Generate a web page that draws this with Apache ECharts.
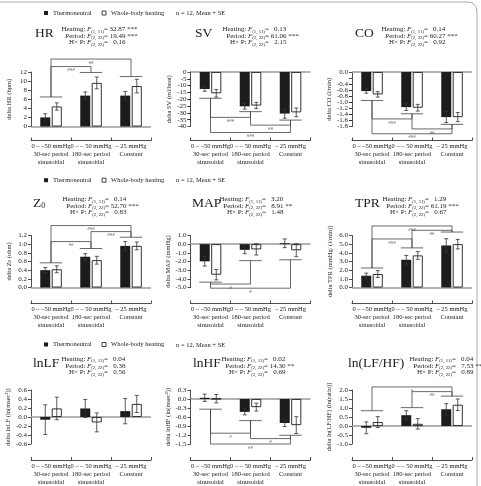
<!DOCTYPE html>
<html><head><meta charset="utf-8">
<script src="https://cdn.jsdelivr.net/npm/echarts@6/dist/echarts.min.js"></script>
<style>html,body{margin:0;padding:0;background:#fff}#c{width:481px;height:486px}</style>
</head><body><div id="c"></div>
<script>
// ---------- DATA ----------
const categories = ['0 – –50 mmHg\n30-sec period\nsinusoidal', '0 – – 50 mmHg\n180-sec period\nsinusoidal', '– 25 mmHg\nConstant'];
const groupNames = ['Thermoneutral', 'Whole-body heating'];
const panelTitles = ['HR', 'SV', 'CO', 'Z{s|0}', 'MAP', 'TPR', 'lnLF', 'lnHF', 'ln(LF/HF)'];
const yNames = ['delta HR (bpm)', 'delta SV (ml/beat)', 'delta CO (l/min)', 'delta Z{s|0} (ohm)', 'delta MAP (mmHg)',
  'delta TPR (mmHg/ (l/min))', 'delta lnLF (ln(msec²))', 'delta lnHF (ln(msec²))', 'delta ln(LF/HF) (ln(ratio))'];
const yMin = [0, -40, -1.8, 0, -5, 0, -0.6, -1.5, -1.0];
const yMax = [12, 0, 0, 1.2, 1, 6, 0.6, 0.3, 2.0];
const yStep = [2, 5, 0.2, 0.2, 1, 1, 0.2, 0.3, 0.5];
const yDecimals = [0, 0, 1, 1, 1, 1, 1, 1, 1];

const statLabels = ['Heating:', 'Period:', 'H× P:'];
const statSubs = ['(1, 11)', '(2, 22)', '(2, 22)'];
const fHeating = ['32.87 ***', '0.13', '0.14', '0.14', '3.20', '1.29', '0.04', '0.02', '0.04'];
const fPeriod = ['19.49 ***', '61.06 ***', '60.27 ***', '52.70 ***', '8.91 **', '61.19 ***', '0.38', '14.30 **', '7.53 **'];
const fInteraction = ['0.16', '2.15', '0.92', '0.83', '1.48', '0.67', '0.56', '0.69', '0.89'];
const sampleNote = 'n = 12, Mean + SE';

const hrThermo = [2.0, 6.8, 6.8], hrThermoSE = [0.8, 0.8, 0.9];
const hrHeat = [4.4, 9.6, 8.9], hrHeatSE = [0.8, 1.3, 1.5];
const svThermo = [-12.5, -25.2, -30.5], svThermoSE = [1.6, 2.0, 3.4];
const svHeat = [-15.6, -24.6, -29.6], svHeatSE = [2.8, 2.3, 3.2];
const coThermo = [-0.63, -1.16, -1.49], coThermoSE = [0.07, 0.11, 0.18];
const coHeat = [-0.74, -1.18, -1.49], coHeatSE = [0.09, 0.11, 0.15];
const z0Thermo = [0.40, 0.71, 0.96], z0ThermoSE = [0.06, 0.07, 0.10];
const z0Heat = [0.42, 0.63, 0.96], z0HeatSE = [0.08, 0.09, 0.09];
const mapThermo = [-1.98, -0.65, 0.10], mapThermoSE = [0.55, 0.45, 0.5];
const mapHeat = [-3.52, -0.60, -0.70], mapHeatSE = [0.6, 0.65, 0.75];
const tprThermo = [1.36, 3.2, 4.85], tprThermoSE = [0.3, 0.5, 0.78];
const tprHeat = [1.55, 3.7, 5.0], tprHeatSE = [0.4, 0.45, 0.55];
const lflThermo = [-0.06, 0.19, 0.13], lflThermoSE = [0.33, 0.2, 0.28];
const lflHeat = [0.19, -0.12, 0.29], lflHeatSE = [0.25, 0.21, 0.19];
const lhfThermo = [0.04, -0.43, -0.80], lhfThermoSE = [0.12, 0.1, 0.12];
const lhfHeat = [0.01, -0.27, -0.87], lhfHeatSE = [0.14, 0.13, 0.28];
const ratioThermo = [-0.10, 0.60, 0.93], ratioThermoSE = [0.33, 0.25, 0.31];
const ratioHeat = [0.22, 0.12, 1.18], ratioHeatSE = [0.3, 0.29, 0.32];

// significance brackets: cap level per category, links [from, to, level] and their labels
const hrCaps = [6.5, 11.9, 11.0], hrLinks = [[0, 1, 13.2], [0, 2, 14.85]], hrLinkLabels = ['###', '##'];
const svCaps = [-19.3, -29.1, -35.3], svLinks = [[0, 1, -33.3], [1, 2, -39], [0, 2, -44.4]], svLinkLabels = ['###', '##', '###'];
const coCaps = [-0.94, -1.38, -1.73], coLinks = [[0, 1, -1.55], [1, 2, -1.88], [0, 2, -2.04]], coLinkLabels = ['###', '##', '###'];
const z0Caps = [0.57, 0.9, 1.16], z0Links = [[0, 1, 1.06], [1, 2, 1.29], [0, 2, 1.43]], z0LinkLabels = ['##', '###', '###'];
const mapCaps = [-4.38, -1.9, -1.8], mapLinks = [[0, 1, -4.6], [0, 2, -5.08]], mapLinkLabels = ['#', '#'];
const tprCaps = [2.25, 4.57, 6.4], tprLinks = [[0, 1, 5.6], [1, 2, 6.6], [0, 2, 7.1]], tprLinkLabels = ['###', '##', '###'];
const lflCaps = [], lflLinks = [], lflLinkLabels = [];
const lhfCaps = [-0.34, -0.72, -1.21], lhfLinks = [[0, 1, -1.14], [1, 2, -1.32], [0, 2, -1.5]], lhfLinkLabels = ['#', '#', '##'];
const ratioCaps = [0.85, 1.02, 1.66], ratioLinks = [[0, 2, 2.17], [1, 2, 1.91]], ratioLinkLabels = ['#', '##'];

const panelData = [
  [hrThermo, hrThermoSE, hrHeat, hrHeatSE, hrCaps, hrLinks, hrLinkLabels],
  [svThermo, svThermoSE, svHeat, svHeatSE, svCaps, svLinks, svLinkLabels],
  [coThermo, coThermoSE, coHeat, coHeatSE, coCaps, coLinks, coLinkLabels],
  [z0Thermo, z0ThermoSE, z0Heat, z0HeatSE, z0Caps, z0Links, z0LinkLabels],
  [mapThermo, mapThermoSE, mapHeat, mapHeatSE, mapCaps, mapLinks, mapLinkLabels],
  [tprThermo, tprThermoSE, tprHeat, tprHeatSE, tprCaps, tprLinks, tprLinkLabels],
  [lflThermo, lflThermoSE, lflHeat, lflHeatSE, lflCaps, lflLinks, lflLinkLabels],
  [lhfThermo, lhfThermoSE, lhfHeat, lhfHeatSE, lhfCaps, lhfLinks, lhfLinkLabels],
  [ratioThermo, ratioThermoSE, ratioHeat, ratioHeatSE, ratioCaps, ratioLinks, ratioLinkLabels]
];

// ---------- LAYOUT / STYLE ----------
const FONT = 'Liberation Serif';
const INK = '#222';
const GRID_LEFT = [31, 190.5, 352];
const GRID_W = 120;
const ROW_TOP = [72, 235.5, 390];
const ROW_H = [54.5, 52, 58.5];
const AX_OFF = [14, 16, 16];
const TITLE_X = [35, 195, 355, 33, 192, 355, 33, 193, 348];
const TITLE_Y = [33, 203, 363];
const F_X = [87, 248, 407, 88, 245, 408, 87, 247, 435];
const STAT_Y = [[29.3, 35.7, 42.3], [199.3, 205.8, 212.3], [359.2, 365.8, 372.4]];
const LEGEND_TOP = [9.5, 176.7, 341];
const NOTE_Y = [13.3, 180.7, 345];
const BAR_W = 10, BAR_GAP = 1.5;
const BAR_OFF = (BAR_W + BAR_GAP) / 2;

const chart = echarts.init(document.getElementById('c'), null, {renderer: 'canvas'});

const grids = [], xAxes = [], yAxes = [], series = [], graphics = [];

graphics.push({type: 'rect', silent: true, z: 0,
  shape: {x: -20, y: 2, width: 497, height: 530, r: 9},
  style: {fill: 'none', stroke: '#aaa', lineWidth: 1}});

function errRender(params, api) {
  const cat = api.value(0), mean = api.value(1), se = api.value(2), g = api.value(3);
  const off = (g === 0 ? -1 : 1) * BAR_OFF;
  const top = api.coord([cat, mean + se]);
  const bot = api.coord([cat, mean - se]);
  const x = top[0] + off, cw = 2;
  const st = {stroke: '#333', lineWidth: 0.8};
  return {type: 'group', children: [
    {type: 'line', shape: {x1: x, y1: top[1], x2: x, y2: bot[1]}, style: st},
    {type: 'line', shape: {x1: x - cw, y1: top[1], x2: x + cw, y2: top[1]}, style: st},
    {type: 'line', shape: {x1: x - cw, y1: bot[1], x2: x + cw, y2: bot[1]}, style: st}
  ]};
}
function capRender(params, api) {
  const c = api.coord([api.value(0), api.value(1)]);
  const hw = api.size([1, 0])[0] * 0.28;
  return {type: 'line', shape: {x1: c[0] - hw, y1: c[1], x2: c[0] + hw, y2: c[1]},
    style: {stroke: '#444', lineWidth: 0.8}};
}
function makeLinkRender(caps, labels) {
  return function (params, api) {
    const a = api.value(0), b = api.value(1), lv = api.value(2);
    const pa = api.coord([a, lv]), pb = api.coord([b, lv]);
    const ca = api.coord([a, caps[a]]), cb = api.coord([b, caps[b]]);
    const st = {stroke: '#444', lineWidth: 0.8};
    return {type: 'group', children: [
      {type: 'line', shape: {x1: pa[0], y1: pa[1], x2: pb[0], y2: pb[1]}, style: st},
      {type: 'line', shape: {x1: pa[0], y1: pa[1], x2: ca[0], y2: ca[1]}, style: st},
      {type: 'line', shape: {x1: pb[0], y1: pb[1], x2: cb[0], y2: cb[1]}, style: st},
      {type: 'text', x: (pa[0] + pb[0]) / 2, y: pa[1] + 0.8,
        style: {text: labels[params.dataIndex], fontSize: 5, fontFamily: FONT, fill: '#444', align: 'center', verticalAlign: 'top'}}
    ]};
  };
}

const fmt = (v, i) => (Math.abs(v) < 1e-9 ? 0 : v).toFixed(yDecimals[i]);

panelData.forEach((pd, i) => {
  const r = Math.floor(i / 3), c = i % 3;
  const [th, thSE, he, heSE, caps, links, linkLabels] = pd;
  grids.push({left: GRID_LEFT[c], top: ROW_TOP[r], width: GRID_W, height: ROW_H[r], containLabel: false});
  const xIdx = xAxes.length;
  xAxes.push({
    type: 'category', gridIndex: i, data: categories, position: 'bottom', offset: AX_OFF[r],
    axisLine: {show: true, onZero: false, lineStyle: {color: INK, width: 0.8}},
    axisTick: {show: true, inside: true, length: 3, lineStyle: {color: INK, width: 0.8}},
    axisLabel: {interval: 0, fontSize: 6.5, lineHeight: 8, margin: 2, color: INK, fontFamily: FONT},
    splitLine: {show: false}
  });
  // tight tick spacing: min label handled by an overlay axis so no neighbour label gets dropped
  const tight = ROW_H[r] / ((yMax[i] - yMin[i]) / yStep[i]) < 7;
  const yIdx = yAxes.length;
  yAxes.push({
    type: 'value', gridIndex: i, min: yMin[i], max: yMax[i], interval: yStep[i], position: 'left',
    axisLine: {show: true, lineStyle: {color: INK, width: 0.8}},
    axisTick: {show: true, length: 3, lineStyle: {color: INK, width: 0.8}},
    axisLabel: {fontSize: 7, margin: 4, color: INK, fontFamily: FONT, showMinLabel: !tight, showMaxLabel: true,
      hideOverlap: false, formatter: v => fmt(v, i)},
    splitLine: {show: false},
    name: yNames[i], nameLocation: 'middle', nameGap: 18,
    nameTextStyle: {fontSize: 6.5, color: INK, fontFamily: FONT, rich: {s: {fontSize: 5, fontFamily: FONT, color: INK}}}
  });
  if (tight) {
    yAxes.push({
      type: 'value', gridIndex: i, min: yMin[i], max: yMax[i], interval: yStep[i], position: 'left',
      axisLine: {show: false}, axisTick: {show: true, length: 3, lineStyle: {color: INK, width: 0.8}},
      axisLabel: {fontSize: 7, margin: 4, color: INK, fontFamily: FONT, showMinLabel: true, showMaxLabel: false,
        formatter: v => (Math.abs(v - yMin[i]) < 1e-9 ? fmt(v, i) : '')},
      splitLine: {show: false}
    });
  }
  series.push({
    type: 'bar', name: groupNames[0], xAxisIndex: xIdx, yAxisIndex: yIdx, data: th,
    barWidth: BAR_W, barGap: (BAR_GAP / BAR_W * 100) + '%',
    itemStyle: {color: '#1c1c1c'},
    markLine: {silent: true, symbol: 'none', z: 1, label: {show: false},
      lineStyle: {color: '#999', width: 1.5, type: 'solid'}, data: [{yAxis: 0}]}
  });
  series.push({
    type: 'bar', name: groupNames[1], xAxisIndex: xIdx, yAxisIndex: yIdx, data: he,
    barWidth: BAR_W, barGap: (BAR_GAP / BAR_W * 100) + '%',
    itemStyle: {color: '#fff', borderColor: '#1c1c1c', borderWidth: 0.9}
  });
  const errData = [];
  for (let k = 0; k < 3; k++) {
    errData.push([k, th[k], thSE[k], 0]);
    errData.push([k, he[k], heSE[k], 1]);
  }
  series.push({type: 'custom', xAxisIndex: xIdx, yAxisIndex: yIdx, clip: false, z: 3,
    renderItem: errRender, encode: {x: 0, y: 1}, data: errData});
  if (caps.length) {
    series.push({type: 'custom', xAxisIndex: xIdx, yAxisIndex: yIdx, clip: false,
      renderItem: capRender, encode: {x: 0, y: 1}, data: caps.map((v, k) => [k, v])});
    series.push({type: 'custom', xAxisIndex: xIdx, yAxisIndex: yIdx, clip: false,
      renderItem: makeLinkRender(caps, linkLabels), encode: {x: 0, y: 2}, data: links});
  }
  // title
  graphics.push({type: 'text', x: TITLE_X[i], y: TITLE_Y[r], silent: true,
    style: {text: panelTitles[i], fontSize: 13.5, fontFamily: FONT, fill: INK, align: 'left', verticalAlign: 'middle',
      rich: {s: {fontSize: 8, fontFamily: FONT, fill: INK, verticalAlign: 'bottom', lineHeight: 12}}}});
  // stats
  const vals = [fHeating[i], fPeriod[i], fInteraction[i]];
  vals.forEach((v, k) => {
    const y = STAT_Y[r][k];
    graphics.push({type: 'text', x: F_X[i] - 1.5, y: y, silent: true,
      style: {text: statLabels[k], fontSize: 7, fontFamily: FONT, fill: INK, align: 'right', verticalAlign: 'middle'}});
    const pad = /^\d\./.test(v) ? '  ' : '';
    graphics.push({type: 'text', x: F_X[i], y: y, silent: true,
      style: {text: '{i|F}{s|' + statSubs[k] + '}{n|= ' + pad + v + '}', fontSize: 7, fontFamily: FONT, fill: INK,
        align: 'left', verticalAlign: 'middle',
        rich: {
          i: {fontSize: 7, fontStyle: 'italic', fontFamily: FONT, fill: INK, lineHeight: 9},
          s: {fontSize: 4.8, fontFamily: FONT, fill: INK, verticalAlign: 'bottom', lineHeight: 6},
          n: {fontSize: 7, fontFamily: FONT, fill: INK, lineHeight: 9}
        }}});
  });
});

const legends = LEGEND_TOP.map(t => ({
  top: t, left: 44, padding: 0, itemGap: 10, itemWidth: 4, itemHeight: 4, icon: 'rect', selectedMode: false,
  textStyle: {fontSize: 6.5, fontFamily: FONT, color: INK},
  data: [{name: groupNames[0], itemStyle: {color: '#1c1c1c'}},
         {name: groupNames[1], itemStyle: {color: '#fff', borderColor: '#1c1c1c', borderWidth: 0.8}}]
}));
NOTE_Y.forEach(y => graphics.push({type: 'text', x: 176, y: y, silent: true,
  style: {text: sampleNote, fontSize: 6.5, fontFamily: FONT, fill: INK, align: 'left', verticalAlign: 'middle'}}));

chart.setOption({
  animation: false,
  backgroundColor: '#fff',
  textStyle: {fontFamily: FONT},
  legend: legends,
  grid: grids, xAxis: xAxes, yAxis: yAxes, series: series,
  graphic: graphics
});
</script></body></html>
